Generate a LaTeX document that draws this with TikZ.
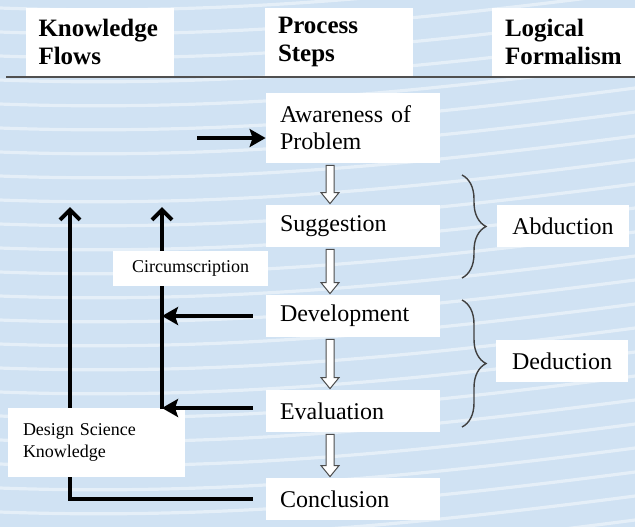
\documentclass[tikz,border=0pt]{standalone}
\usepackage{fontspec}
\setmainfont{Liberation Serif}
\usetikzlibrary{positioning, arrows.meta, calc, decorations.pathreplacing}

\definecolor{bgblue}{RGB}{208,226,243}
\definecolor{rulegray}{RGB}{80,80,80}

\tikzset{
  stepbox/.style={fill=white, text width=73pt, inner xsep=7pt, inner ysep=0pt,
    minimum height=21pt, align=left, font=\fontsize{12}{13.5}\selectfont},
  headbox/.style={fill=white, text width=61pt, inner xsep=6.5pt, minimum height=34pt,
    align=left, font=\bfseries\fontsize{12.5}{14}\selectfont},
  logicbox/.style={fill=white, minimum width=66pt, minimum height=21pt,
    font=\fontsize{12}{13.5}\selectfont},
  notebox/.style={fill=white, font=\fontsize{9}{11}\selectfont},
  flow/.style={draw=black, line width=2pt, -{Stealth[length=8pt,width=9pt,inset=1.5pt]}},
  upflow/.style={draw=black, line width=2pt, -{Straight Barb[length=5pt,width=10pt]}},
  hollow/.style={draw=black!70, fill=white, line width=0.5pt},
  bracket/.style={draw=black!75, line width=0.7pt, decorate,
    decoration={brace, amplitude=12pt}},
}

% white block arrow between two steps
\newcommand{\hollowarrow}[2]{%
  \draw[hollow] ($(#1.south)+(-27,2)$) -- ($(#2.north)+(-27,-12)$)
    -- ($(#2.north)+(-32,-12)$) -- ($(#2.north)+(-23,-1)$)
    -- ($(#2.north)+(-14,-12)$) -- ($(#2.north)+(-19,-12)$)
    -- ($(#1.south)+(-19,2)$) -- cycle;}

\begin{document}
\begin{tikzpicture}[x=0.5pt, y=-0.5pt, on grid]
  \useasboundingbox (0,0) rectangle (635,527);
  % background
  \fill[bgblue] (0,0) rectangle (635,527);
  \begin{scope}
    \clip (0,0) rectangle (635,527);
    \foreach \y in {-40,-16,...,600}
      \draw[white, opacity=0.45, line width=1.6pt]
        (0,\y) .. controls (220,\y+8) and (420,\y-12) .. (635,\y-40);
  \end{scope}

  % column heads
  \node[headbox] (kflows) at (99.5,42) {Knowledge\\Flows};
  \node[headbox] (psteps) at (339,42) {Process\\Steps};
  \node[headbox] (lform) at (566,42) {Logical\\Formalism};
  \draw[rulegray, line width=1pt] (6,77) -- (635,77);

  % process steps
  \node[stepbox, minimum height=35pt] (aware) at (353,128) {Awareness of\\Problem};
  \node[stepbox] (sugg) [below=49pt of aware] {Suggestion};
  \node[stepbox] (dev) [below=45pt of sugg] {Development};
  \node[stepbox] (eval) [below=47.5pt of dev] {Evaluation};
  \node[stepbox] (concl) [below=44pt of eval] {Conclusion};

  \hollowarrow{aware}{sugg}
  \hollowarrow{sugg}{dev}
  \hollowarrow{dev}{eval}
  \hollowarrow{eval}{concl}

  % logical formalism
  \node[logicbox] (abd) [right=105pt of sugg] {Abduction};
  \node[logicbox] (ded) at (562,361) {Deduction};
  \draw[bracket] (462,175) -- (462,278);
  \draw[bracket] (462,300) -- (462,427);

  % knowledge flows
  \coordinate (start) at (197,138);
  \coordinate (outtop) at (70,207);
  \coordinate (intop) at (162,207);
  \coordinate (evalout) at ($(eval.west)+(0,-3)$);
  \draw[flow] (start) -- (start -| aware.west);
  \draw[upflow, shorten <=6.5pt] (concl.west) -| (outtop);
  \node[notebox, text width=73.5pt, inner xsep=7.5pt, minimum height=34.5pt, align=left]
    (dsk) at (96.5,442.5) {Design Science\\Knowledge};
  \draw[flow, shorten <=6.5pt] (dev.west) -- (dev.west -| intop);
  \draw[flow, shorten <=6.5pt] (evalout) -- (evalout -| intop);
  \draw[upflow] ($(evalout -| intop)+(0,1)$) -- (intop);

  \node[notebox, minimum width=77.5pt, minimum height=17.5pt] (circ) at (190.5,268.5) {Circumscription};
\end{tikzpicture}
\end{document}
